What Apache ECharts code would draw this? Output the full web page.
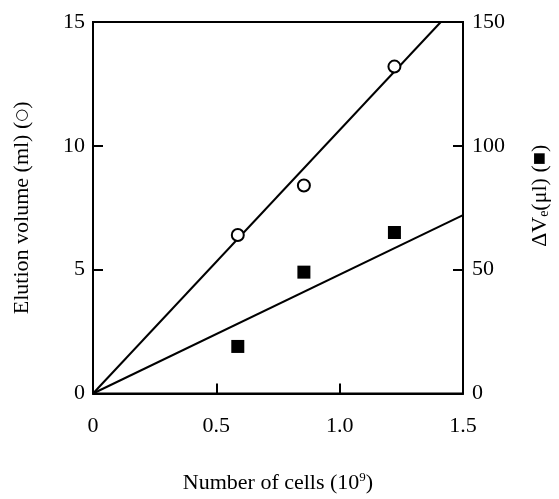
<!DOCTYPE html>
<html><head><meta charset="utf-8">
<script src="https://cdn.jsdelivr.net/npm/echarts@6/dist/echarts.min.js"></script>
<style>html,body{margin:0;padding:0;background:#fff;overflow:hidden}#c{position:absolute;left:0;top:0;width:559px;height:499px}</style>
</head><body><div id="c"></div>
<script>
// Data
var cells = [0.587, 0.855, 1.222];           // number of cells (10^9)
var elutionVolume = [6.4, 8.4, 13.2];        // ml (open circles, left axis)
var deltaVe = [19, 49, 65];                  // µl (filled squares, right axis)
var fitElution = [[0, 0], [1.41, 15]];       // fitted line, left axis
var fitDelta = [[0, 0], [1.5, 72]];          // fitted line, right axis
var xTickLabels = {0: '0', 0.5: '0.5', 1: '1.0', 1.5: '1.5'};

var font = 'Liberation Serif';
var chart = echarts.init(document.getElementById('c'), null, {renderer: 'canvas', width: 559, height: 499});
var axisCommon = {
  axisLine: {show: true, onZero: false, lineStyle: {color: '#000', width: 2}},
  axisTick: {show: true, inside: true, length: 10, lineStyle: {color: '#000', width: 2}},
  splitLine: {show: false},
  axisLabel: {color: '#000', fontFamily: font, fontSize: 22}
};
chart.setOption({
  animation: false,
  backgroundColor: '#fff',
  grid: {left: 93, right: 89, top: 22, bottom: 99, show: true, borderColor: '#000', borderWidth: 2, containLabel: false},
  xAxis: Object.assign({}, axisCommon, {
    type: 'value', min: 0, max: 1.5, interval: 0.5,
    axisLabel: Object.assign({}, axisCommon.axisLabel, {margin: 22, formatter: function (v) { return xTickLabels[v] !== undefined ? xTickLabels[v] : String(v); }}),
    name: 'Number of cells (10{s|9})', nameLocation: 'middle', nameGap: 78,
    nameTextStyle: {color: '#000', fontFamily: font, fontSize: 22, rich: {s: {fontFamily: font, fontSize: 13, verticalAlign: 'top', padding: [0, 0, 10, 0]}}}
  }),
  yAxis: [
    Object.assign({}, axisCommon, {
      type: 'value', min: 0, max: 15, interval: 5, position: 'left',
      axisLabel: Object.assign({}, axisCommon.axisLabel, {margin: 8}),
      name: 'Elution volume (ml) ({c|○})', nameLocation: 'middle', nameGap: 60, nameRotate: 90,
      nameTextStyle: {color: '#000', fontFamily: font, fontSize: 22, rich: {c: {fontFamily: 'DejaVu Sans', fontSize: 15, fontWeight: 'bold'}}}
    }),
    Object.assign({}, axisCommon, {
      type: 'value', min: 0, max: 150, interval: 50, position: 'right',
      axisLabel: Object.assign({}, axisCommon.axisLabel, {margin: 9}),
      name: 'ΔV{sub|e}(μl) (■)', nameLocation: 'middle', nameGap: 66, nameRotate: 90,
      nameTextStyle: {color: '#000', fontFamily: font, fontSize: 22, padding: [0, 0, 0, 24],
        rich: {sub: {fontFamily: font, fontSize: 14, verticalAlign: 'bottom', padding: [8, 0, 0, 0]}}}
    })
  ],
  series: [
    {type: 'line', yAxisIndex: 0, data: fitElution, symbol: 'none', lineStyle: {color: '#000', width: 2}, silent: true, clip: true},
    {type: 'line', yAxisIndex: 1, data: fitDelta, symbol: 'none', lineStyle: {color: '#000', width: 2}, silent: true, clip: true},
    {type: 'scatter', yAxisIndex: 0, data: cells.map(function (c, i) { return [c, elutionVolume[i]]; }), z: 3,
      symbol: 'circle', symbolSize: 12, itemStyle: {color: '#fff', borderColor: '#000', borderWidth: 2, opacity: 1}},
    {type: 'scatter', yAxisIndex: 1, data: cells.map(function (c, i) { return [c, deltaVe[i]]; }), z: 3,
      symbol: 'rect', symbolSize: 13, itemStyle: {color: '#000', opacity: 1}}
  ]
});
</script></body></html>
